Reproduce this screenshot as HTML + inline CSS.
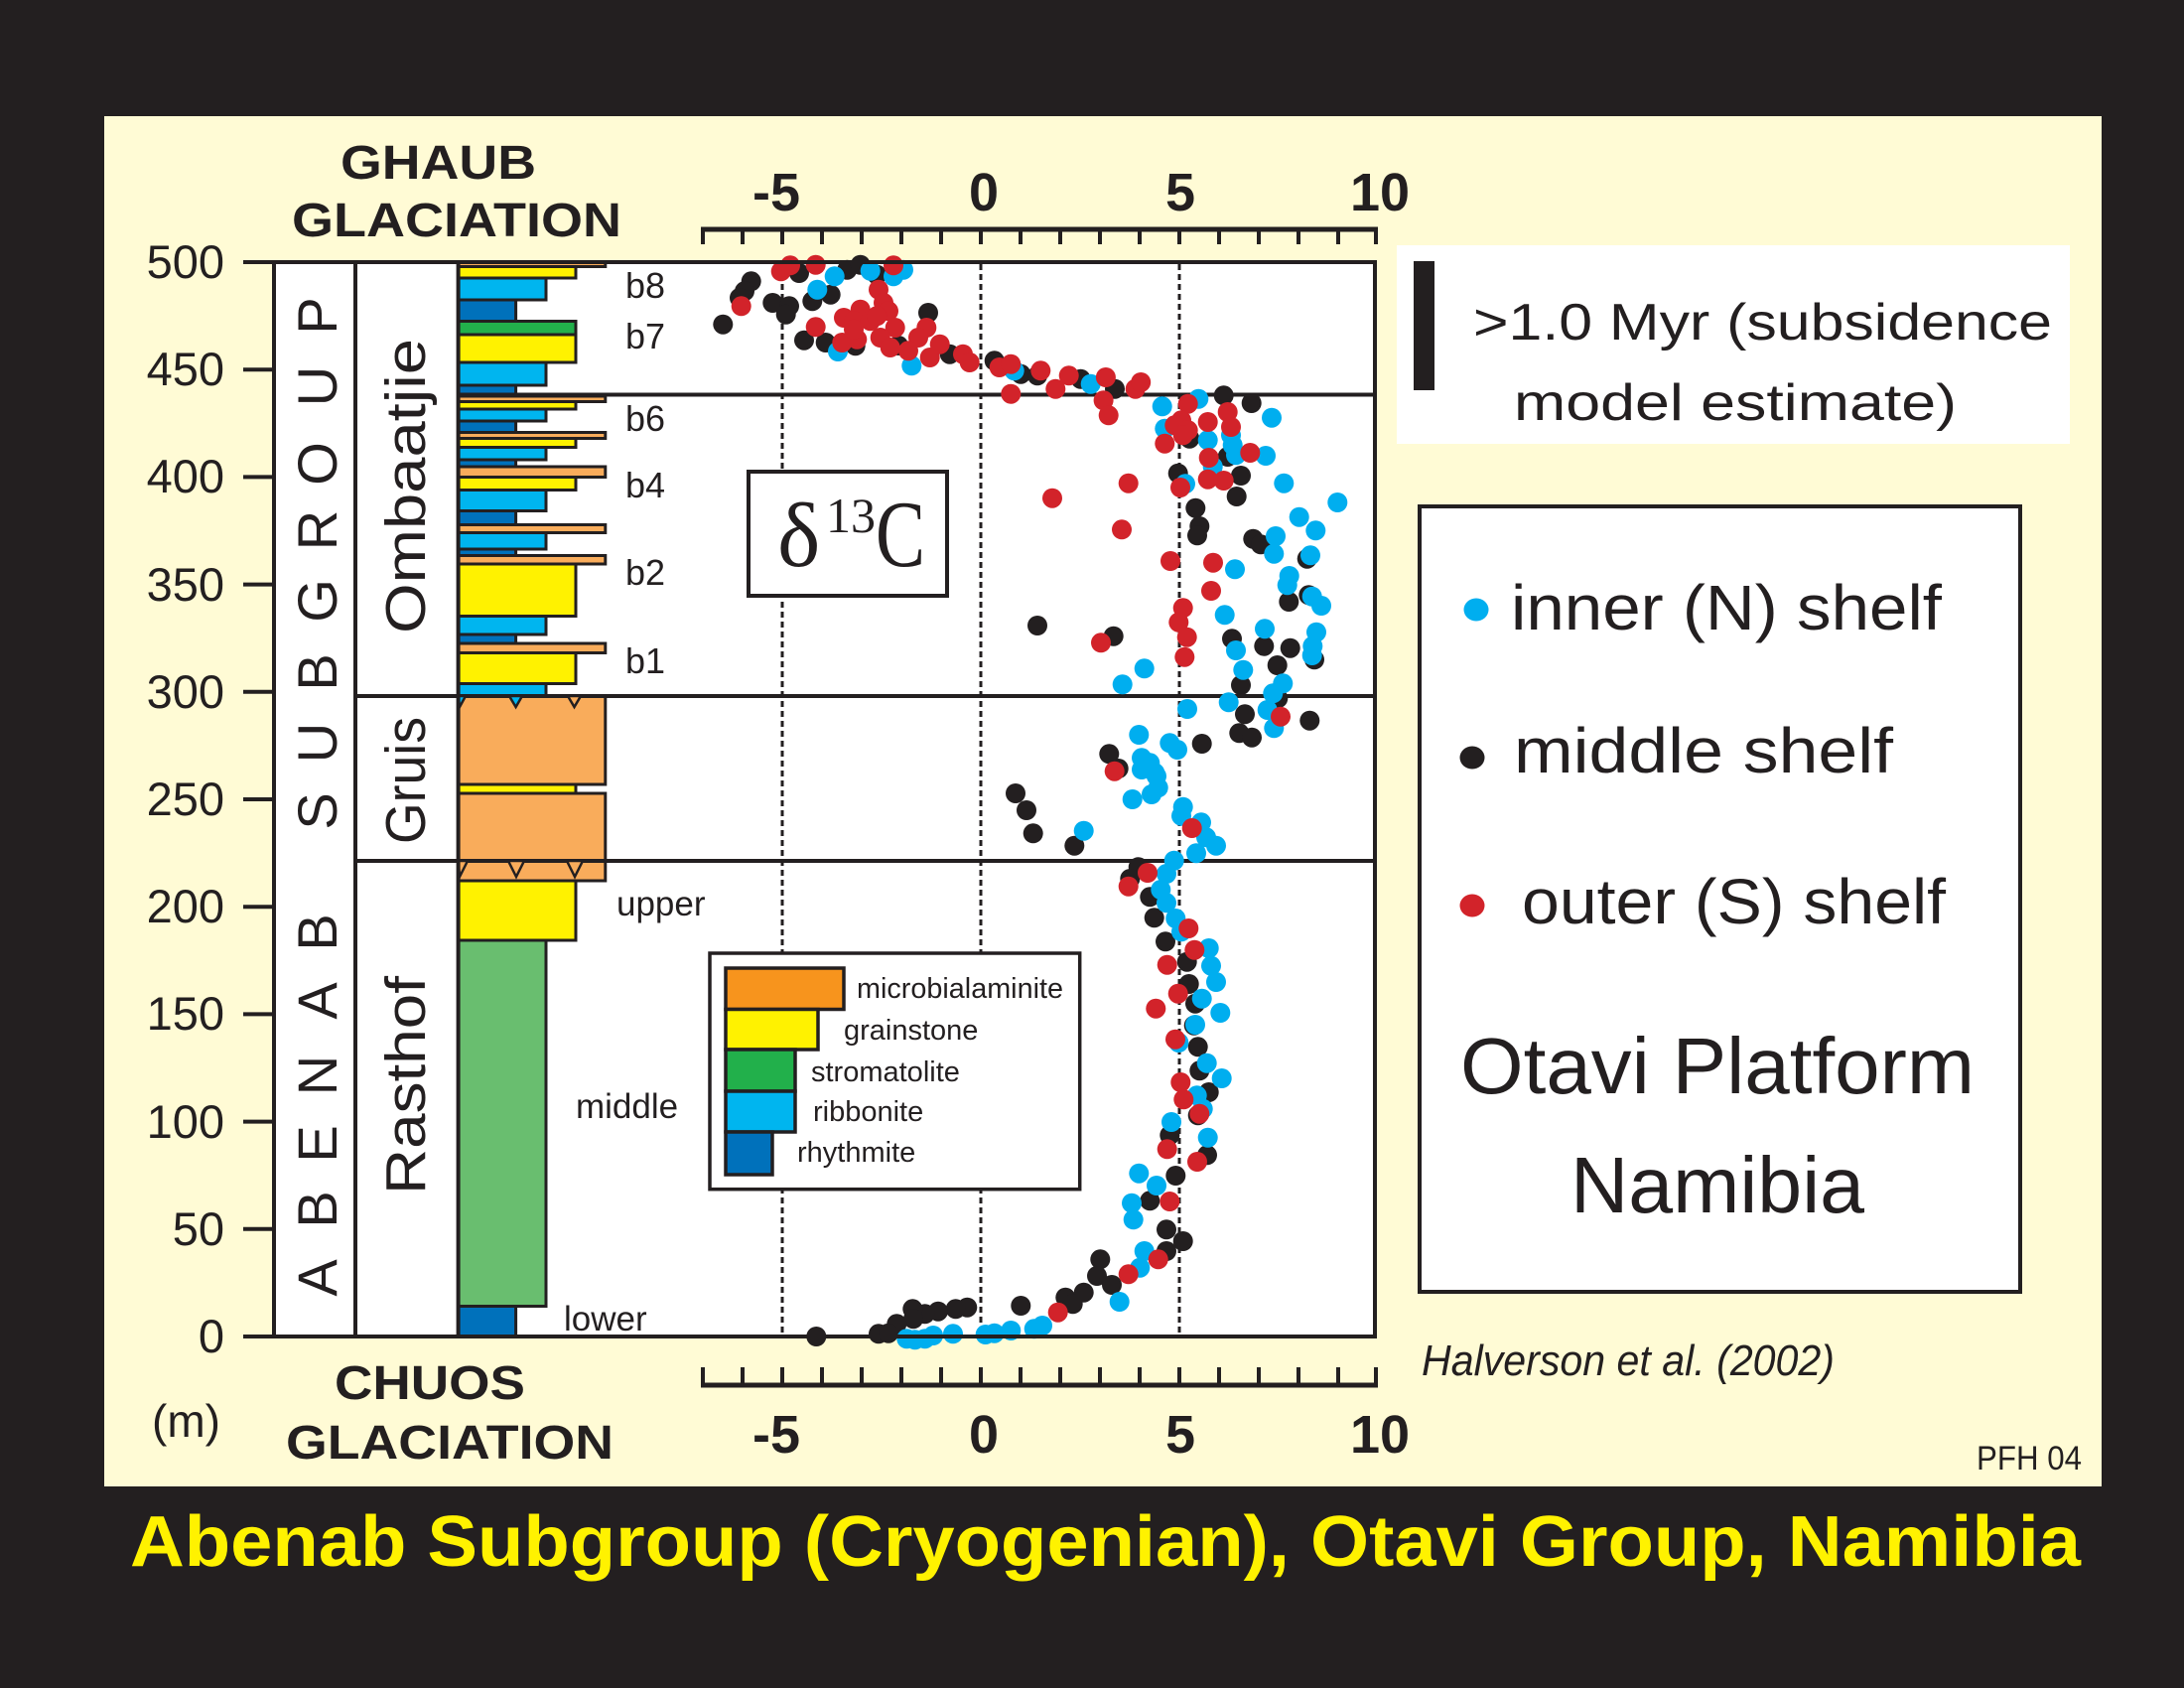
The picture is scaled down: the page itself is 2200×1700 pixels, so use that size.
<!DOCTYPE html>
<html><head><meta charset="utf-8">
<style>html,body{margin:0;padding:0;background:#231f20;}svg{display:block}</style>
</head>
<body>
<svg width="2200" height="1700" viewBox="0 0 2200 1700" xmlns="http://www.w3.org/2000/svg" font-family="'Liberation Sans', sans-serif">
<rect width="2200" height="1700" fill="#231f20"/>
<rect x="105" y="117" width="2012" height="1380" fill="#fffbd5"/>

<!-- headers -->
<g font-weight="bold" fill="#231f20" font-size="48">
<text x="343" y="180" textLength="197" lengthAdjust="spacingAndGlyphs">GHAUB</text>
<text x="294" y="238" textLength="332" lengthAdjust="spacingAndGlyphs">GLACIATION</text>
<text x="337" y="1409" textLength="192" lengthAdjust="spacingAndGlyphs">CHUOS</text>
<text x="288" y="1469" textLength="330" lengthAdjust="spacingAndGlyphs">GLACIATION</text>
</g>
<text x="153" y="1447" font-size="46" fill="#231f20">(m)</text>

<!-- y tick labels -->
<g font-size="47" fill="#231f20" text-anchor="end">
<text x="226" y="280">500</text>
<text x="226" y="388">450</text>
<text x="226" y="496">400</text>
<text x="226" y="605">350</text>
<text x="226" y="713">300</text>
<text x="226" y="821">250</text>
<text x="226" y="929">200</text>
<text x="226" y="1037">150</text>
<text x="226" y="1146">100</text>
<text x="226" y="1254">50</text>
<text x="226" y="1362">0</text>
</g>
<g stroke="#231f20" stroke-width="4">
<line x1="245" y1="264" x2="276" y2="264"/>
<line x1="245" y1="372.2" x2="276" y2="372.2"/>
<line x1="245" y1="480.4" x2="276" y2="480.4"/>
<line x1="245" y1="588.6" x2="276" y2="588.6"/>
<line x1="245" y1="696.8" x2="276" y2="696.8"/>
<line x1="245" y1="805" x2="276" y2="805"/>
<line x1="245" y1="913.2" x2="276" y2="913.2"/>
<line x1="245" y1="1021.4" x2="276" y2="1021.4"/>
<line x1="245" y1="1129.6" x2="276" y2="1129.6"/>
<line x1="245" y1="1237.8" x2="276" y2="1237.8"/>
<line x1="245" y1="1346" x2="276" y2="1346"/>
</g>

<!-- top x axis -->
<g stroke="#231f20" stroke-width="4">
<line x1="706" y1="231" x2="1388" y2="231" stroke-width="5"/>
<line x1="708" y1="231" x2="708" y2="246"/>
<line x1="748" y1="231" x2="748" y2="246"/>
<line x1="788" y1="231" x2="788" y2="246"/>
<line x1="828" y1="231" x2="828" y2="246"/>
<line x1="868" y1="231" x2="868" y2="246"/>
<line x1="908" y1="231" x2="908" y2="246"/>
<line x1="948" y1="231" x2="948" y2="246"/>
<line x1="988" y1="231" x2="988" y2="246"/>
<line x1="1028" y1="231" x2="1028" y2="246"/>
<line x1="1068" y1="231" x2="1068" y2="246"/>
<line x1="1108" y1="231" x2="1108" y2="246"/>
<line x1="1148" y1="231" x2="1148" y2="246"/>
<line x1="1188" y1="231" x2="1188" y2="246"/>
<line x1="1228" y1="231" x2="1228" y2="246"/>
<line x1="1268" y1="231" x2="1268" y2="246"/>
<line x1="1308" y1="231" x2="1308" y2="246"/>
<line x1="1348" y1="231" x2="1348" y2="246"/>
<line x1="1386" y1="231" x2="1386" y2="246"/>
</g>
<!-- bottom x axis -->
<g stroke="#231f20" stroke-width="4">
<line x1="706" y1="1395" x2="1388" y2="1395" stroke-width="5"/>
<line x1="708" y1="1377" x2="708" y2="1395"/>
<line x1="748" y1="1377" x2="748" y2="1395"/>
<line x1="788" y1="1377" x2="788" y2="1395"/>
<line x1="828" y1="1377" x2="828" y2="1395"/>
<line x1="868" y1="1377" x2="868" y2="1395"/>
<line x1="908" y1="1377" x2="908" y2="1395"/>
<line x1="948" y1="1377" x2="948" y2="1395"/>
<line x1="988" y1="1377" x2="988" y2="1395"/>
<line x1="1028" y1="1377" x2="1028" y2="1395"/>
<line x1="1068" y1="1377" x2="1068" y2="1395"/>
<line x1="1108" y1="1377" x2="1108" y2="1395"/>
<line x1="1148" y1="1377" x2="1148" y2="1395"/>
<line x1="1188" y1="1377" x2="1188" y2="1395"/>
<line x1="1228" y1="1377" x2="1228" y2="1395"/>
<line x1="1268" y1="1377" x2="1268" y2="1395"/>
<line x1="1308" y1="1377" x2="1308" y2="1395"/>
<line x1="1348" y1="1377" x2="1348" y2="1395"/>
<line x1="1386" y1="1377" x2="1386" y2="1395"/>
</g>
<g font-weight="bold" font-size="54" fill="#231f20" text-anchor="middle">
<text x="782" y="212">-5</text>
<text x="991" y="212">0</text>
<text x="1189" y="212">5</text>
<text x="1390" y="212">10</text>
<text x="782" y="1463">-5</text>
<text x="991" y="1463">0</text>
<text x="1189" y="1463">5</text>
<text x="1390" y="1463">10</text>
</g>

<!-- main box white -->
<rect x="276" y="264" width="1109" height="1082" fill="#ffffff"/>

<!-- lithology column -->
<g stroke="#231f20" stroke-width="3">
<rect x="461.6" y="264" width="148.2" height="4.5" fill="#f9ac5b"/>
<rect x="461.6" y="268.5" width="118.4" height="11.5" fill="#fff200"/>
<rect x="461.6" y="280" width="88.4" height="22" fill="#00b5ef"/>
<rect x="461.6" y="302" width="58" height="21.5" fill="#0071bb"/>
<rect x="461.6" y="323.5" width="118.4" height="13.5" fill="#22b04b"/>
<rect x="461.6" y="337" width="118.4" height="28" fill="#fff200"/>
<rect x="461.6" y="365" width="88.4" height="23" fill="#00b5ef"/>
<rect x="461.6" y="388" width="58" height="9.5" fill="#0071bb"/>
<rect x="461.6" y="399" width="148.2" height="5.5" fill="#f9ac5b"/>
<rect x="461.6" y="404.5" width="118.4" height="7.5" fill="#fff200"/>
<rect x="461.6" y="412" width="88.4" height="12" fill="#00b5ef"/>
<rect x="461.6" y="424" width="58" height="11.5" fill="#0071bb"/>
<rect x="461.6" y="435.5" width="148.2" height="6" fill="#f9ac5b"/>
<rect x="461.6" y="441.5" width="118.4" height="9" fill="#fff200"/>
<rect x="461.6" y="450.5" width="88.4" height="12.5" fill="#00b5ef"/>
<rect x="461.6" y="463" width="58" height="7" fill="#0071bb"/>
<rect x="461.6" y="470" width="148.2" height="10.5" fill="#f9ac5b"/>
<rect x="461.6" y="480.5" width="118.4" height="13" fill="#fff200"/>
<rect x="461.6" y="493.5" width="88.4" height="21" fill="#00b5ef"/>
<rect x="461.6" y="514.5" width="58" height="14" fill="#0071bb"/>
<rect x="461.6" y="528.5" width="148.2" height="8" fill="#f9ac5b"/>
<rect x="461.6" y="536.5" width="88.4" height="16.5" fill="#00b5ef"/>
<rect x="461.6" y="553" width="58" height="6.5" fill="#0071bb"/>
<rect x="461.6" y="559.5" width="148.2" height="8.5" fill="#f9ac5b"/>
<rect x="461.6" y="568" width="118.4" height="52.5" fill="#fff200"/>
<rect x="461.6" y="620.5" width="88.4" height="18.5" fill="#00b5ef"/>
<rect x="461.6" y="639" width="58" height="9" fill="#0071bb"/>
<rect x="461.6" y="648" width="148.2" height="9.5" fill="#f9ac5b"/>
<rect x="461.6" y="657.5" width="118.4" height="31" fill="#fff200"/>
<rect x="461.6" y="688.5" width="88.4" height="12.5" fill="#00b5ef"/>
<rect x="461.6" y="701" width="148.2" height="89" fill="#f9ac5b"/>
<rect x="461.6" y="790" width="118.4" height="9" fill="#fff200"/>
<rect x="461.6" y="799" width="148.2" height="88" fill="#f9ac5b"/>
<rect x="461.6" y="887" width="118.4" height="60" fill="#fff200"/>
<rect x="461.6" y="947" width="88.4" height="368.5" fill="#69be6f"/>
<rect x="461.6" y="1315.5" width="58" height="30.5" fill="#0071bb"/>
</g>

<!-- column labels -->
<g font-size="36" fill="#231f20">
<text x="630" y="300">b8</text>
<text x="630" y="351">b7</text>
<text x="630" y="434">b6</text>
<text x="630" y="501">b4</text>
<text x="630" y="589">b2</text>
<text x="630" y="678">b1</text>
<text x="621" y="922" font-size="35">upper</text>
<text x="580" y="1126" font-size="35">middle</text>
<text x="568" y="1340" font-size="35">lower</text>
</g>

<!-- dotted lines -->
<g stroke="#231f20" stroke-width="3" stroke-dasharray="6 4">
<line x1="788" y1="266" x2="788" y2="1344"/>
<line x1="988" y1="266" x2="988" y2="1344"/>
<line x1="1188" y1="266" x2="1188" y2="1344"/>
</g>

<!-- horizontal dividers -->
<g stroke="#231f20" stroke-width="4">
<line x1="461.6" y1="397.5" x2="1385" y2="397.5"/>
<line x1="358" y1="701" x2="1385" y2="701"/>
<line x1="358" y1="867" x2="1385" y2="867"/>
</g>
<!-- triangles -->
<g stroke="#231f20" stroke-width="2.5" stroke-linejoin="miter">
<polygon points="461.6,701 469,701 463,712" fill="#00b5ef"/>
<polygon points="513,701 526,701 519.6,712" fill="#00b5ef"/>
<polygon points="572,701 585,701 578.5,712" fill="#f9ac5b"/>
<polygon points="461.6,867 471,867 463,883" fill="#f9ac5b"/>
<polygon points="512,867 528,867 520,883" fill="#f9ac5b"/>
<polygon points="571,867 587,867 579,883" fill="#f9ac5b"/>
</g>

<!-- left boxes -->
<g stroke="#231f20" stroke-width="4" fill="none">
<line x1="358" y1="264" x2="358" y2="1346"/>
<line x1="461.6" y1="264" x2="461.6" y2="1346"/>
</g>

<!-- ABENAB SUBGROUP letters -->
<g font-size="56" fill="#231f20" text-anchor="middle">
<text transform="translate(339,1287) rotate(-90)">A</text>
<text transform="translate(339,1218) rotate(-90)">B</text>
<text transform="translate(339,1152) rotate(-90)">E</text>
<text transform="translate(339,1083) rotate(-90)">N</text>
<text transform="translate(339,1008) rotate(-90)">A</text>
<text transform="translate(339,939) rotate(-90)">B</text>
<text transform="translate(339,817) rotate(-90)">S</text>
<text transform="translate(339,748) rotate(-90)">U</text>
<text transform="translate(339,677) rotate(-90)">B</text>
<text transform="translate(339,605) rotate(-90)">G</text>
<text transform="translate(339,534) rotate(-90)">R</text>
<text transform="translate(339,467) rotate(-90)">O</text>
<text transform="translate(339,389) rotate(-90)">U</text>
<text transform="translate(339,318) rotate(-90)">P</text>
</g>
<g font-size="57" fill="#231f20">
<text transform="translate(428,638) rotate(-90)" textLength="297" lengthAdjust="spacingAndGlyphs">Ombaatjie</text>
<text transform="translate(428,850) rotate(-90)" textLength="128" lengthAdjust="spacingAndGlyphs">Gruis</text>
<text transform="translate(428,1203) rotate(-90)" textLength="220" lengthAdjust="spacingAndGlyphs">Rasthof</text>
</g>

<!-- delta 13C box -->
<rect x="754" y="475" width="200" height="125" fill="#ffffff" stroke="#231f20" stroke-width="4"/>
<g font-family="'Liberation Serif', serif" fill="#231f20">
<text x="783" y="570" font-size="92">δ</text>
<text x="832" y="536" font-size="50">13</text>
<text x="882" y="570" font-size="95" textLength="50" lengthAdjust="spacingAndGlyphs">C</text>
</g>

<!-- lithology legend -->
<rect x="715" y="960" width="372.7" height="237.7" fill="#ffffff" stroke="#231f20" stroke-width="3.5"/>
<g stroke="#231f20" stroke-width="3.5">
<rect x="731" y="975" width="119" height="41.5" fill="#f7941d"/>
<rect x="731" y="1016.5" width="93" height="40.5" fill="#fff200"/>
<rect x="731" y="1057" width="70" height="42" fill="#22b04b"/>
<rect x="731" y="1099" width="70" height="41" fill="#00b5ef"/>
<rect x="731" y="1140" width="47" height="43" fill="#0071bb"/>
</g>
<g font-size="29" fill="#231f20">
<text x="863" y="1005" textLength="208" lengthAdjust="spacingAndGlyphs">microbialaminite</text>
<text x="850" y="1047">grainstone</text>
<text x="817" y="1089">stromatolite</text>
<text x="819" y="1129">ribbonite</text>
<text x="803" y="1170">rhythmite</text>
</g>

<!-- data points -->
<g fill="#231f20">
<circle cx="728.3" cy="326.7" r="10"/><circle cx="756.7" cy="283.3" r="10"/><circle cx="750" cy="293.3" r="10"/><circle cx="745" cy="300" r="10"/>
<circle cx="778.3" cy="305" r="10"/><circle cx="795" cy="308.3" r="10"/><circle cx="791.7" cy="316.7" r="10"/><circle cx="805" cy="275" r="10"/>
<circle cx="836.7" cy="296.7" r="10"/><circle cx="818.3" cy="303.3" r="10"/><circle cx="853.3" cy="271.7" r="10"/><circle cx="866.7" cy="266.7" r="10"/>
<circle cx="883.3" cy="276.7" r="10"/><circle cx="810" cy="342.7" r="10"/><circle cx="831.7" cy="345" r="10"/><circle cx="861.7" cy="348.3" r="10"/>
<circle cx="935" cy="315" r="10"/><circle cx="905" cy="348" r="10"/><circle cx="956.7" cy="356.7" r="10"/><circle cx="1001.7" cy="363.3" r="10"/><circle cx="1028.3" cy="376.7" r="10"/>
<circle cx="1045" cy="378.3" r="10"/><circle cx="1088.6" cy="381.7" r="10"/><circle cx="1123" cy="391.7" r="10"/><circle cx="1232.7" cy="398.3" r="10"/>
<circle cx="1260.7" cy="406" r="10"/><circle cx="1198.3" cy="441.7" r="10"/><circle cx="1236.7" cy="460" r="10"/><circle cx="1186.7" cy="476.7" r="10"/>
<circle cx="1250" cy="479" r="10"/><circle cx="1245.7" cy="500" r="10"/><circle cx="1204.3" cy="511.7" r="10"/><circle cx="1208.3" cy="530" r="10"/>
<circle cx="1206" cy="539.3" r="10"/><circle cx="1262.3" cy="542.7" r="10"/><circle cx="1270" cy="548.3" r="10"/><circle cx="1316.7" cy="562.7" r="10"/>
<circle cx="1298.3" cy="606" r="10"/><circle cx="1318.3" cy="599.3" r="10"/><circle cx="1045" cy="630" r="10"/><circle cx="1121.7" cy="640.7" r="10"/>
<circle cx="1241" cy="643.3" r="10"/><circle cx="1273.3" cy="650.7" r="10"/><circle cx="1299.7" cy="652.7" r="10"/><circle cx="1324" cy="664.3" r="10"/>
<circle cx="1286.7" cy="670" r="10"/><circle cx="1287.3" cy="703.3" r="10"/><circle cx="1250" cy="690" r="10"/><circle cx="1254" cy="719.3" r="10"/>
<circle cx="1319.3" cy="725.7" r="10"/><circle cx="1248.3" cy="738.3" r="10"/><circle cx="1261" cy="742.7" r="10"/><circle cx="1210.7" cy="749" r="10"/>
<circle cx="1117.3" cy="759.3" r="10"/><circle cx="1126.7" cy="774" r="10"/><circle cx="1023" cy="799" r="10"/><circle cx="1034" cy="816" r="10"/>
<circle cx="1040.7" cy="839.3" r="10"/><circle cx="1082.3" cy="851.7" r="10"/><circle cx="1146.7" cy="873.3" r="10"/><circle cx="1138.3" cy="885" r="10"/>
<circle cx="1158.3" cy="903.3" r="10"/><circle cx="1162.7" cy="924.3" r="10"/><circle cx="1174" cy="948.3" r="10"/><circle cx="1195.7" cy="968.7" r="10"/>
<circle cx="1197.7" cy="991" r="10"/><circle cx="1204" cy="1010.7" r="10"/><circle cx="1202.7" cy="1032.7" r="10"/><circle cx="1206.7" cy="1054.3" r="10"/>
<circle cx="1208.3" cy="1078.3" r="10"/><circle cx="1217.7" cy="1100" r="10"/><circle cx="1206.7" cy="1123.3" r="10"/><circle cx="1178.3" cy="1143.3" r="10"/>
<circle cx="1216" cy="1163.3" r="10"/><circle cx="1184.3" cy="1184" r="10"/><circle cx="1158.3" cy="1209.3" r="10"/><circle cx="1175" cy="1238.3" r="10"/>
<circle cx="1191.7" cy="1250" r="10"/><circle cx="1175" cy="1260" r="10"/><circle cx="1108.3" cy="1268.3" r="10"/><circle cx="1105" cy="1285" r="10"/>
<circle cx="1120" cy="1294" r="10"/><circle cx="1091.7" cy="1301.7" r="10"/><circle cx="1073.3" cy="1306.7" r="10"/><circle cx="1080.7" cy="1313.3" r="10"/>
<circle cx="1028.3" cy="1315" r="10"/><circle cx="974.3" cy="1316.7" r="10"/><circle cx="962.7" cy="1318.3" r="10"/><circle cx="945" cy="1320.7" r="10"/>
<circle cx="931.7" cy="1323.3" r="10"/><circle cx="919.3" cy="1318.3" r="10"/><circle cx="920" cy="1328.3" r="10"/><circle cx="903.3" cy="1333.3" r="10"/>
<circle cx="885" cy="1343.3" r="10"/><circle cx="895" cy="1342.7" r="10"/><circle cx="822.3" cy="1346" r="10"/>
</g>
<g fill="#00aeef">
<circle cx="840.7" cy="278.3" r="10"/><circle cx="823.3" cy="291.7" r="10"/><circle cx="876.7" cy="272.7" r="10"/><circle cx="900" cy="278.3" r="10"/>
<circle cx="910" cy="271.7" r="10"/><circle cx="844" cy="354" r="10"/><circle cx="918.3" cy="368.3" r="10"/><circle cx="1021.7" cy="373.3" r="10"/>
<circle cx="1098.7" cy="386.7" r="10"/><circle cx="1170.7" cy="409.3" r="10"/><circle cx="1207.3" cy="401.7" r="10"/><circle cx="1281" cy="420.7" r="10"/>
<circle cx="1240" cy="438.3" r="10"/><circle cx="1173.3" cy="431.7" r="10"/><circle cx="1216.7" cy="443.3" r="10"/><circle cx="1241.7" cy="448.3" r="10"/>
<circle cx="1245" cy="458.3" r="10"/><circle cx="1275" cy="459" r="10"/><circle cx="1221.7" cy="470" r="10"/><circle cx="1194" cy="487.3" r="10"/>
<circle cx="1293.3" cy="486.7" r="10"/><circle cx="1347.3" cy="506" r="10"/><circle cx="1308.7" cy="520.7" r="10"/><circle cx="1325.3" cy="534.3" r="10"/>
<circle cx="1285" cy="540" r="10"/><circle cx="1283.3" cy="557.7" r="10"/><circle cx="1320" cy="559.3" r="10"/><circle cx="1244" cy="573.3" r="10"/>
<circle cx="1298.7" cy="580" r="10"/><circle cx="1296.7" cy="589.3" r="10"/><circle cx="1321.7" cy="600.7" r="10"/><circle cx="1331" cy="610" r="10"/>
<circle cx="1233.7" cy="619.3" r="10"/><circle cx="1274" cy="633.3" r="10"/><circle cx="1245" cy="655" r="10"/><circle cx="1326" cy="636.7" r="10"/>
<circle cx="1322.3" cy="650.7" r="10"/><circle cx="1321.7" cy="660" r="10"/><circle cx="1252.3" cy="674.7" r="10"/><circle cx="1292.3" cy="688.3" r="10"/>
<circle cx="1282.3" cy="698.3" r="10"/><circle cx="1152.7" cy="673.3" r="10"/><circle cx="1130.7" cy="689.3" r="10"/><circle cx="1237.7" cy="707.3" r="10"/>
<circle cx="1196" cy="714" r="10"/><circle cx="1276.7" cy="715" r="10"/><circle cx="1283.3" cy="733.3" r="10"/><circle cx="1147.3" cy="740" r="10"/>
<circle cx="1178.3" cy="748.3" r="10"/><circle cx="1186" cy="755" r="10"/><circle cx="1150" cy="763.3" r="10"/><circle cx="1158.3" cy="768.3" r="10"/>
<circle cx="1163.3" cy="778.3" r="10"/><circle cx="1150" cy="775" r="10"/><circle cx="1165" cy="781.7" r="10"/><circle cx="1166.7" cy="793.3" r="10"/>
<circle cx="1160" cy="800" r="10"/><circle cx="1140.7" cy="805" r="10"/><circle cx="1191.7" cy="812.7" r="10"/><circle cx="1190" cy="821.7" r="10"/>
<circle cx="1210" cy="828.3" r="10"/><circle cx="1215" cy="843.3" r="10"/><circle cx="1225" cy="851.7" r="10"/><circle cx="1205" cy="859.3" r="10"/>
<circle cx="1091.7" cy="836.7" r="10"/><circle cx="1182.7" cy="866.7" r="10"/><circle cx="1175" cy="880" r="10"/><circle cx="1169.3" cy="896" r="10"/>
<circle cx="1175" cy="909.3" r="10"/><circle cx="1184.3" cy="925" r="10"/><circle cx="1190" cy="938.3" r="10"/><circle cx="1217.7" cy="955" r="10"/>
<circle cx="1220" cy="972.7" r="10"/><circle cx="1225" cy="989" r="10"/><circle cx="1210.7" cy="1005.7" r="10"/><circle cx="1229.3" cy="1020" r="10"/>
<circle cx="1204" cy="1032" r="10"/><circle cx="1187.3" cy="1050" r="10"/><circle cx="1215.7" cy="1070.7" r="10"/><circle cx="1230.7" cy="1086" r="10"/>
<circle cx="1205.7" cy="1103.3" r="10"/><circle cx="1211.7" cy="1116.7" r="10"/><circle cx="1180" cy="1130" r="10"/><circle cx="1216.7" cy="1145.7" r="10"/>
<circle cx="1165" cy="1194" r="10"/><circle cx="1147.3" cy="1181.7" r="10"/><circle cx="1141.7" cy="1228.3" r="10"/><circle cx="1140" cy="1211.7" r="10"/>
<circle cx="1148.3" cy="1276.7" r="10"/><circle cx="1152.7" cy="1260" r="10"/><circle cx="1127.7" cy="1311" r="10"/><circle cx="913.3" cy="1348.3" r="10"/>
<circle cx="921.7" cy="1349.3" r="10"/><circle cx="931.7" cy="1348.3" r="10"/><circle cx="940" cy="1345" r="10"/><circle cx="960" cy="1343.3" r="10"/>
<circle cx="992.7" cy="1344" r="10"/><circle cx="1001.7" cy="1342.7" r="10"/><circle cx="1018.3" cy="1340" r="10"/><circle cx="1041.7" cy="1338.3" r="10"/>
<circle cx="1050" cy="1335" r="10"/>
</g>
<g fill="#d2232a">
<circle cx="746.7" cy="308.3" r="10"/><circle cx="786.7" cy="273.3" r="10"/><circle cx="796" cy="267.3" r="10"/><circle cx="821.7" cy="266.7" r="10"/>
<circle cx="900" cy="267.3" r="10"/><circle cx="885" cy="291.7" r="10"/><circle cx="890" cy="305" r="10"/><circle cx="895" cy="313.3" r="10"/>
<circle cx="866.7" cy="311.7" r="10"/><circle cx="850" cy="320" r="10"/><circle cx="860" cy="323.3" r="10"/><circle cx="876.7" cy="323.3" r="10"/>
<circle cx="883.3" cy="318.3" r="10"/><circle cx="821.7" cy="329.3" r="10"/><circle cx="848.3" cy="345" r="10"/><circle cx="863.3" cy="341.7" r="10"/>
<circle cx="860" cy="331.7" r="10"/><circle cx="901.7" cy="330" r="10"/><circle cx="886.7" cy="340" r="10"/><circle cx="896.7" cy="350" r="10"/>
<circle cx="933.3" cy="330" r="10"/><circle cx="925" cy="340" r="10"/><circle cx="915" cy="353.3" r="10"/><circle cx="936.7" cy="360" r="10"/>
<circle cx="946.7" cy="346.7" r="10"/><circle cx="970" cy="356.7" r="10"/><circle cx="976.7" cy="365" r="10"/><circle cx="1006.7" cy="370" r="10"/>
<circle cx="1018.3" cy="366.7" r="10"/><circle cx="1048.3" cy="373.3" r="10"/><circle cx="1018.3" cy="396.7" r="10"/><circle cx="1063.3" cy="391.7" r="10"/>
<circle cx="1076.7" cy="378.3" r="10"/><circle cx="1113.9" cy="380" r="10"/><circle cx="1143.7" cy="391.7" r="10"/><circle cx="1149.2" cy="385" r="10"/>
<circle cx="1111.6" cy="403.3" r="10"/><circle cx="1116.7" cy="418.3" r="10"/><circle cx="1196.7" cy="406.7" r="10"/><circle cx="1190" cy="423.3" r="10"/>
<circle cx="1183.3" cy="428.3" r="10"/><circle cx="1196.7" cy="433.3" r="10"/><circle cx="1216.7" cy="425" r="10"/><circle cx="1236.7" cy="415" r="10"/>
<circle cx="1240" cy="430" r="10"/><circle cx="1191.7" cy="438.3" r="10"/><circle cx="1173.3" cy="446.7" r="10"/><circle cx="1259.3" cy="456" r="10"/>
<circle cx="1217.7" cy="461" r="10"/><circle cx="1189" cy="491" r="10"/><circle cx="1216.7" cy="482.7" r="10"/><circle cx="1232.7" cy="484" r="10"/>
<circle cx="1136.7" cy="486.7" r="10"/><circle cx="1060" cy="501.7" r="10"/><circle cx="1130" cy="533.3" r="10"/><circle cx="1179" cy="565" r="10"/>
<circle cx="1222" cy="566.7" r="10"/><circle cx="1220" cy="595" r="10"/><circle cx="1191.7" cy="612.3" r="10"/><circle cx="1187.3" cy="626.7" r="10"/>
<circle cx="1195.7" cy="641.7" r="10"/><circle cx="1193.3" cy="661.7" r="10"/><circle cx="1109" cy="647.3" r="10"/><circle cx="1290" cy="721.7" r="10"/>
<circle cx="1122.7" cy="776.7" r="10"/><circle cx="1200.7" cy="834" r="10"/><circle cx="1156" cy="879" r="10"/><circle cx="1136.7" cy="892.7" r="10"/>
<circle cx="1197.3" cy="935" r="10"/><circle cx="1203.3" cy="956.7" r="10"/><circle cx="1175.7" cy="971.7" r="10"/><circle cx="1186.7" cy="1000.7" r="10"/>
<circle cx="1164.3" cy="1015.7" r="10"/><circle cx="1184" cy="1046.7" r="10"/><circle cx="1189.3" cy="1090" r="10"/><circle cx="1192.3" cy="1107.3" r="10"/>
<circle cx="1208.3" cy="1121.7" r="10"/><circle cx="1175.7" cy="1157.3" r="10"/><circle cx="1206" cy="1170" r="10"/><circle cx="1178.3" cy="1210" r="10"/>
<circle cx="1166.7" cy="1268.3" r="10"/><circle cx="1136.7" cy="1283.3" r="10"/><circle cx="1065.7" cy="1321.7" r="10"/>
</g>

<!-- outer plot border -->
<rect x="276" y="264" width="1109" height="1082" fill="none" stroke="#231f20" stroke-width="4"/>

<!-- right panel: subsidence box -->
<rect x="1407" y="247" width="678" height="200" fill="#ffffff"/>
<rect x="1424" y="263" width="21" height="130" fill="#231f20"/>
<g font-size="52" fill="#231f20">
<text x="1484" y="342" textLength="583" lengthAdjust="spacingAndGlyphs">&gt;1.0 Myr (subsidence</text>
<text x="1525" y="423" textLength="446" lengthAdjust="spacingAndGlyphs">model estimate)</text>
</g>

<!-- right panel: series legend -->
<rect x="1430" y="510" width="605" height="791" fill="#ffffff" stroke="#231f20" stroke-width="4"/>
<ellipse cx="1487" cy="614" rx="12.5" ry="11.5" fill="#00aeef"/>
<ellipse cx="1483" cy="763" rx="12.5" ry="11.5" fill="#231f20"/>
<ellipse cx="1483" cy="912" rx="12.5" ry="11.5" fill="#d2232a"/>
<g font-size="64" fill="#231f20">
<text x="1522" y="634" textLength="434" lengthAdjust="spacingAndGlyphs">inner (N) shelf</text>
<text x="1525" y="778" textLength="382" lengthAdjust="spacingAndGlyphs">middle shelf</text>
<text x="1533" y="930" textLength="427" lengthAdjust="spacingAndGlyphs">outer (S) shelf</text>
<text x="1471" y="1101" font-size="80" textLength="518" lengthAdjust="spacingAndGlyphs">Otavi Platform</text>
<text x="1582" y="1221" font-size="80" textLength="296" lengthAdjust="spacingAndGlyphs">Namibia</text>
</g>

<!-- citation -->
<text x="1432" y="1385" font-size="44" font-style="italic" fill="#231f20" textLength="416" lengthAdjust="spacingAndGlyphs">Halverson et al. (2002)</text>
<text x="1991" y="1480" font-size="34" fill="#231f20" textLength="106" lengthAdjust="spacingAndGlyphs">PFH 04</text>

<!-- title -->
<text x="131" y="1577" font-size="72" font-weight="bold" fill="#fff200" textLength="1965" lengthAdjust="spacingAndGlyphs">Abenab Subgroup (Cryogenian), Otavi Group, Namibia</text>
</svg>
</body></html>
